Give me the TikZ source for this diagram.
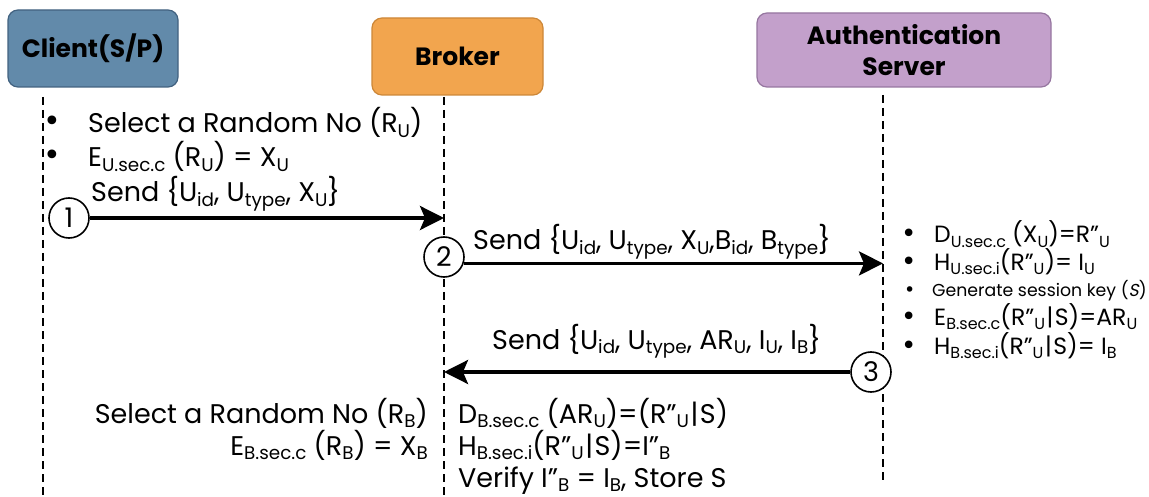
\documentclass[tikz,border=0pt]{standalone}
\usepackage{fontspec}
\setmainfont{Poppins}
\newfontfamily\bulletfont{DejaVu Sans}
\usetikzlibrary{arrows.meta,calc}

% lowered, shrunk index text
\newcommand\sbt[1]{\raisebox{-0.18em}{\scalebox{0.68}{#1}}}
% list bullet
\newcommand\blt{{\bulletfont •}}
% concatenation bar
\newcommand\cat{\kern1.5pt|\kern1.5pt}

\tikzset{
  actor/.style={draw, rounded corners=10pt, line width=1.2pt, inner sep=0pt,
    align=center, font=\fontsize{25}{31}\selectfont\bfseries},
  life/.style={dash pattern=on 8pt off 5pt, line width=1.5pt},
  msg/.style={line width=3.5pt, -{Stealth[length=24pt,width=24pt,inset=5pt]}},
  stepnum/.style={circle, draw, line width=1.6pt, fill=white, minimum size=40pt,
    inner sep=0pt, font=\fontsize{27}{30}\selectfont},
  txt/.style={inner sep=0pt, anchor=base west, font=\fontsize{27}{32}\selectfont},
  txtr/.style={txt, anchor=base east},
  small/.style={inner sep=0pt, anchor=base west, font=\fontsize{23.5}{26}\selectfont},
  tiny/.style={inner sep=0pt, anchor=base west, font=\fontsize{17.3}{20}\selectfont},
  bigdot/.style={inner sep=0pt, anchor=base west, font=\fontsize{30}{32}\selectfont},
  meddot/.style={inner sep=0pt, anchor=base west, font=\fontsize{26}{28}\selectfont},
  lowdot/.style={inner sep=0pt, anchor=base west, font=\fontsize{19}{21}\selectfont},
}

\definecolor{clientfill}{RGB}{98,138,170}
\definecolor{clientline}{RGB}{66,98,128}
\definecolor{brokerfill}{RGB}{242,165,78}
\definecolor{brokerline}{RGB}{205,135,55}
\definecolor{authfill}{RGB}{195,160,203}
\definecolor{authline}{RGB}{150,118,160}

\begin{document}
\begin{tikzpicture}[x=1pt, y=-1pt]
\useasboundingbox (0,0) rectangle (1149,497);

% participants
\node[actor, fill=clientfill, draw=clientline, minimum width=170pt, minimum height=77pt]
  (client) at (93,48.5) {Client(S/P)};
\node[actor, fill=brokerfill, draw=brokerline, minimum width=171pt, minimum height=77pt]
  (broker) at (457.5,56.5) {Broker};
\node[actor, fill=authfill, draw=authline, minimum width=294pt, minimum height=74pt]
  (auth) at (904,50) {Authentication\\Server};

% lifelines
\coordinate (cTop) at (43,97);   \coordinate (cBot) at (43,497);
\coordinate (bTop) at (444,97);  \coordinate (bBot) at (444,497);
\coordinate (aTop) at (883,95);  \coordinate (aBot) at (883,480);
\draw[life] (cTop) -- (cBot);
\draw[life] (bTop) -- (bBot);
\draw[life] (aTop) -- (aBot);

% client side steps
\node[bigdot] (b1) at (43,132) {\blt};
\node[txt] (t1) at (88,133) {Select a Random No (R\sbt{U})};
\node[bigdot] (b2) at (43,166) {\blt};
\node[txt] (t2) at (88,167) {E\sbt{U.sec.c} (R\sbt{U}) = X\sbt{U}};
\node[txt] (m1) at (91,202) {Send \{U\sbt{id}, U\sbt{type}, X\sbt{U}\}};

% message 1
\node[stepnum] (c1) at (69,218) {1};
\draw[msg] (c1.east) -- (c1.east -| bTop);

% message 2
\node[stepnum] (c2) at (444,257) {2};
\node[txt] (m2) at (473,250) {Send \{U\sbt{id}, U\sbt{type}, X\sbt{U},B\sbt{id}, B\sbt{type}\}};
\draw[msg] (c2.-18) -- (c2.-18 -| aTop);

% server side steps
\node[meddot] (s1b) at (901,243) {\blt};
\node[small] (s1) at (934,243) {D\sbt{U.sec.c} (X\sbt{U})=R”\sbt{U}};
\node[meddot] (s2b) at (901,270) {\blt};
\node[small] (s2) at (934,270) {H\sbt{U.sec.i}(R”\sbt{U})= I\sbt{U}};
\node[lowdot] (s3b) at (904,296) {\blt};
\node[tiny]  (s3) at (932,297) {Generate session key ({\addfontfeature{FakeSlant=0.2}S})};
\node[meddot] (s4b) at (901,325) {\blt};
\node[small] (s4) at (934,325) {E\sbt{B.sec.c}(R”\sbt{U}\cat S)=AR\sbt{U}};
\node[meddot] (s5b) at (901,354) {\blt};
\node[small] (s5) at (934,354) {H\sbt{B.sec.i}(R”\sbt{U}\cat S)= I\sbt{B}};

% message 3
\node[stepnum] (c3) at (871,372) {3};
\node[txt] (m3) at (492,349) {Send \{U\sbt{id}, U\sbt{type}, AR\sbt{U}, I\sbt{U}, I\sbt{B}\}};
\draw[msg] (c3.west) -- (c3.west -| bTop);

% broker side steps
\node[txtr] (r1) at (428,423) {Select a Random No (R\sbt{B})};
\node[txtr] (r2) at (428,455) {E\sbt{B.sec.c} (R\sbt{B}) = X\sbt{B}};
\node[txt] (v1) at (458,423) {D\sbt{B.sec.c} (AR\sbt{U})=(R”\sbt{U}\cat S)};
\node[txt] (v2) at (458,455) {H\sbt{B.sec.i}(R”\sbt{U}\cat S)=I”\sbt{B}};
\node[txt] (v3) at (458,487) {Verify I”\sbt{B} = I\sbt{B}, Store S};
\end{tikzpicture}
\end{document}
